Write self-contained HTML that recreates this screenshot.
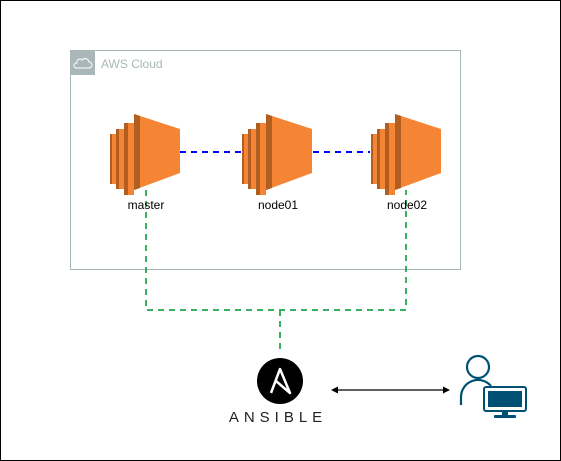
<!DOCTYPE html>
<html><head><style>
body{margin:0;background:#fff;}
svg{display:block}
</style></head><body>
<svg width="561" height="461" viewBox="0 0 561 461" xmlns="http://www.w3.org/2000/svg" font-family="Liberation Sans, sans-serif">
<rect x="0.5" y="0.5" width="560" height="460" fill="#fff" stroke="#000"/>
<rect x="70.5" y="50.5" width="390" height="219" fill="none" stroke="#aab7b8"/>
<rect x="70" y="50" width="25" height="25" fill="#aab7b8"/>
<path d="M76 68 h13 a3 3 0 0 0 0-6 a4 4 0 0 0-7-2 a3 3 0 0 0-5 3 a2.5 2.5 0 0 0-1 5z" fill="none" stroke="#fff" stroke-width="1"/>
<text x="101" y="68" font-size="12" fill="#aab7b8">AWS Cloud</text>
<g stroke="#0000ff" stroke-width="2" stroke-dasharray="6,5">
<line x1="180" y1="152" x2="241" y2="152"/>
<line x1="313" y1="152" x2="370" y2="152"/>
</g>
<g stroke="#16a34a" stroke-width="2" stroke-dasharray="6,5" fill="none" opacity="0.85">
<path d="M146 190 V310 H406 V190"/>
<line x1="280" y1="310" x2="280" y2="352"/>
</g>
<defs>
<g id="ec2">
<path d="M0 20 h6 v50 h-6z" fill="#f58534"/><path d="M0 20 h2 v50 h-2z" fill="#b05e22"/>
<path d="M6 15 h8 v60 h-8z" fill="#f58534"/><path d="M6 15 h3 v60 h-3z" fill="#b05e22"/>
<path d="M14 9 h10 v72 h-10z" fill="#f58534"/><path d="M14 9 h4 v72 h-4z" fill="#b05e22"/>
<path d="M24 0 L70 15 V59 L24 76z" fill="#f58534"/>
<path d="M24 0 L30 2 V74 L24 76z" fill="#b05e22"/>
</g>
</defs>
<use href="#ec2" x="110" y="114"/>
<use href="#ec2" x="242" y="114"/>
<use href="#ec2" x="371" y="114"/>
<g font-size="12" fill="#000" text-anchor="middle">
<text x="146" y="209">master</text>
<text x="278" y="209">node01</text>
<text x="407" y="209">node02</text>
</g>
<circle cx="280" cy="381" r="23" fill="#000"/>
<path d="M271 393 L280 369 L290 393 L276 381" fill="none" stroke="#fff" stroke-width="2.5" stroke-linejoin="round"/>
<text x="278" y="422" font-size="15" text-anchor="middle" letter-spacing="5" fill="#222">ANSIBLE</text>
<line x1="335" y1="390" x2="446" y2="390" stroke="#000" stroke-width="1.2"/>
<path d="M331 390 l7-3.5 v7z M450 390 l-7-3.5 v7z" fill="#000"/>
<g stroke="#005073" stroke-width="2.2" fill="none">
<circle cx="478" cy="367" r="11"/>
<path d="M461 405 v-8 a17 17 0 0 1 30-11"/>
</g>
<rect x="484" y="387" width="42" height="24" rx="2" fill="#fff" stroke="#005073" stroke-width="2"/>
<rect x="488" y="391" width="34" height="16" fill="#005073"/>
<rect x="502" y="411" width="6" height="4" fill="#005073"/>
<rect x="494" y="415" width="22" height="3" rx="1" fill="#005073"/>
</svg>
</body></html>
